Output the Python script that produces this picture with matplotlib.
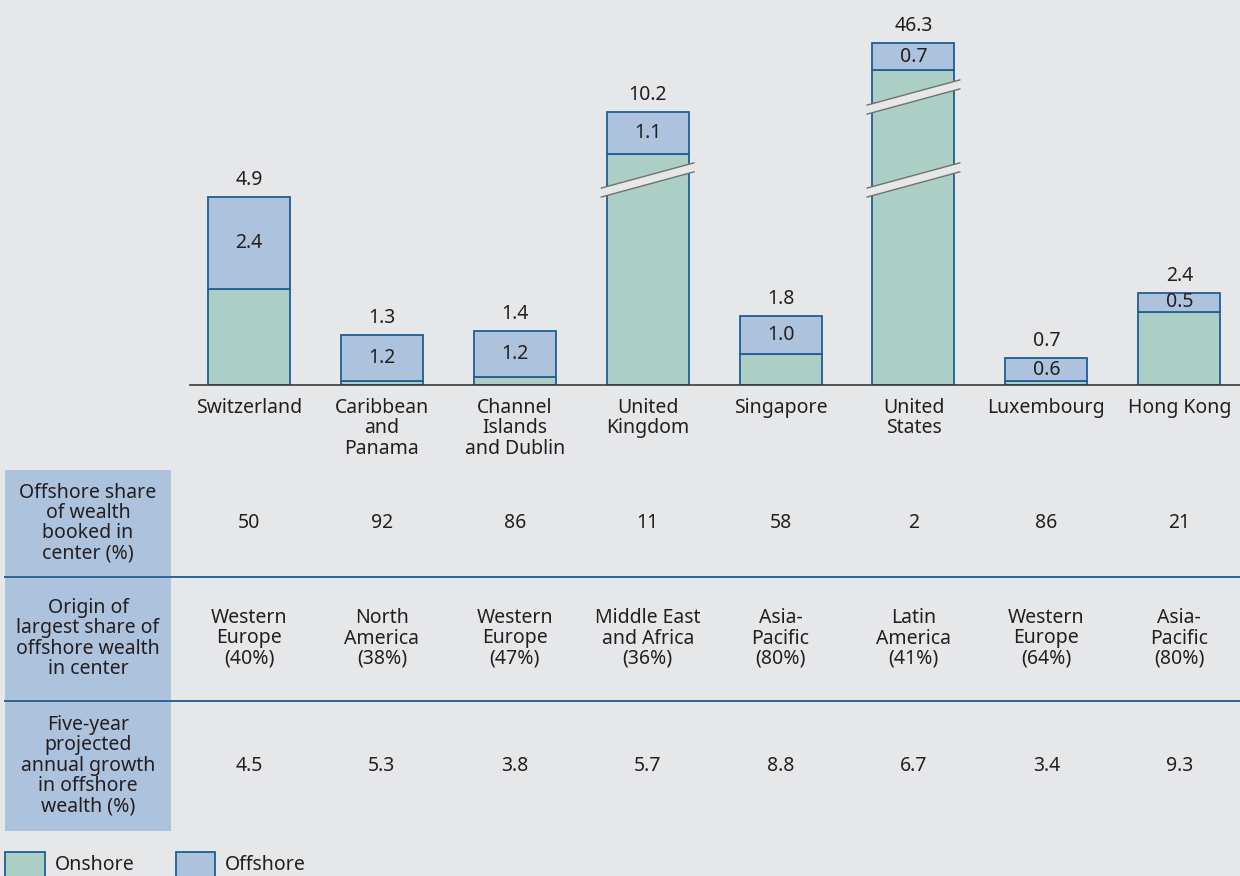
import matplotlib.pyplot as plt
from matplotlib.patches import Rectangle, Polygon
from matplotlib import transforms

plt.rcParams['font.family'] = ['Noto Sans', 'DejaVu Sans']

# 数据
centers = ['Switzerland', 'Caribbean\nand\nPanama', 'Channel\nIslands\nand Dublin',
           'United\nKingdom', 'Singapore', 'United\nStates', 'Luxembourg', 'Hong Kong']
total = [4.9, 1.3, 1.4, 10.2, 1.8, 46.3, 0.7, 2.4]
offshore = [2.4, 1.2, 1.2, 1.1, 1.0, 0.7, 0.6, 0.5]
onshore = [round(t - o, 1) for t, o in zip(total, offshore)]

offshore_share = ['50', '92', '86', '11', '58', '2', '86', '21']
origin = ['Western\nEurope\n(40%)', 'North\nAmerica\n(38%)', 'Western\nEurope\n(47%)',
          'Middle East\nand Africa\n(36%)', 'Asia-\nPacific\n(80%)', 'Latin\nAmerica\n(41%)',
          'Western\nEurope\n(64%)', 'Asia-\nPacific\n(80%)']
growth = ['4.5', '5.3', '3.8', '5.7', '8.8', '6.7', '3.4', '9.3']

row_titles = ['Offshore share\nof wealth\nbooked in\ncenter (%)',
              'Origin of\nlargest share of\noffshore wealth\nin center',
              'Five-year\nprojected\nannual growth\nin offshore\nwealth (%)']

# 截断的柱子: 显示高度和断裂位置
cut_top = {3: 6.02, 5: 8.2}
cut_at = {3: [5.34], 5: [5.34, 7.5]}

bg = '#e6e7e9'
c_on = '#accfc5'
c_off = '#adc2dd'
c_edge = '#1f5f96'
c_line = '#2a6496'
txt = '#231f20'
fs = 14
ls = 1.02

fig = plt.figure(figsize=(12.4, 8.76), dpi=100)
fig.patch.set_facecolor(bg)

# 覆盖层, 像素坐标
ov = fig.add_axes([0, 0, 1, 1])
ov.set_xlim(0, 1240)
ov.set_ylim(876, 0)
ov.axis('off')

ax = fig.add_axes([190 / 1240, (876 - 385) / 876, 1050 / 1240, 385 / 876])
ax.set_facecolor('none')
ax.set_xlim(-0.444, 7.457)
ax.set_ylim(0, 385 / 38.4)
for s in ['top', 'left', 'right']:
    ax.spines[s].set_visible(False)
ax.spines['bottom'].set_color('#3a3a3a')
ax.spines['bottom'].set_linewidth(1.2)
ax.set_xticks([])
ax.set_yticks([])

w = 0.617
x = list(range(len(centers)))
on_shown = [cut_top.get(i, onshore[i]) for i in x]

ax.bar(x, on_shown, w, color=c_on, edgecolor=c_edge, linewidth=1.3, zorder=2)
ax.bar(x, offshore, w, bottom=on_shown, color=c_off, edgecolor=c_edge, linewidth=1.3, zorder=2)

for i in x:
    top = on_shown[i] + offshore[i]
    ax.annotate(f'{total[i]:.1f}', (i, top), xytext=(0, 12), textcoords='offset pixels',
                ha='center', va='baseline', fontsize=fs, color=txt)
    ax.text(i, on_shown[i] + offshore[i] / 2, f'{offshore[i]:.1f}', ha='center', va='center',
            fontsize=fs, color=txt, zorder=3)

# 断裂标记
slope = 0.94
gap = 0.234
hw = w / 2 + 0.04
for i, levels in cut_at.items():
    for b in levels:
        lo = [(i - hw, b - slope * hw - gap / 2), (i + hw, b + slope * hw - gap / 2)]
        hi = [(i + hw, b + slope * hw + gap / 2), (i - hw, b - slope * hw + gap / 2)]
        ax.add_patch(Polygon(lo + hi, closed=True, facecolor=bg, edgecolor='none', zorder=4))
        ax.plot([p[0] for p in lo], [p[1] for p in lo], color='#707070', lw=1, zorder=5)
        ax.plot([p[0] for p in hi], [p[1] for p in hi], color='#707070', lw=1, zorder=5)

# 类别标签和表格
tr = transforms.blended_transform_factory(ax.transData, ov.transData)
for i in x:
    ov.text(i, 398, centers[i], transform=tr, ha='center', va='top', fontsize=fs,
            color=txt, linespacing=ls)

rows = [(470, 576.5), (576.5, 700.5), (700.5, 831)]
ov.add_patch(Rectangle((5, 470), 166, 361, facecolor=c_off, edgecolor='none'))
for (y0, y1), title in zip(rows, row_titles):
    ov.text(88, (y0 + y1) / 2, title, ha='center', va='center', fontsize=fs,
            color=txt, linespacing=ls)
for y in [576.5, 700.5]:
    ov.plot([5, 1240], [y, y], color=c_line, lw=1.4)

for vals, (y0, y1) in zip([offshore_share, origin, growth], rows):
    for i in x:
        ov.text(i, (y0 + y1) / 2, vals[i], transform=tr, ha='center', va='center',
                fontsize=fs, color=txt, linespacing=ls)

# 图例
ov.add_patch(Rectangle((5, 852), 40, 30, facecolor=c_on, edgecolor=c_edge, lw=1.3))
ov.text(55, 865, 'Onshore', ha='left', va='center', fontsize=fs, color=txt)
ov.add_patch(Rectangle((176, 852), 39, 30, facecolor=c_off, edgecolor=c_edge, lw=1.3))
ov.text(225, 865, 'Offshore', ha='left', va='center', fontsize=fs, color=txt)

plt.savefig('out.png', dpi=100, facecolor=bg)
plt.close()
